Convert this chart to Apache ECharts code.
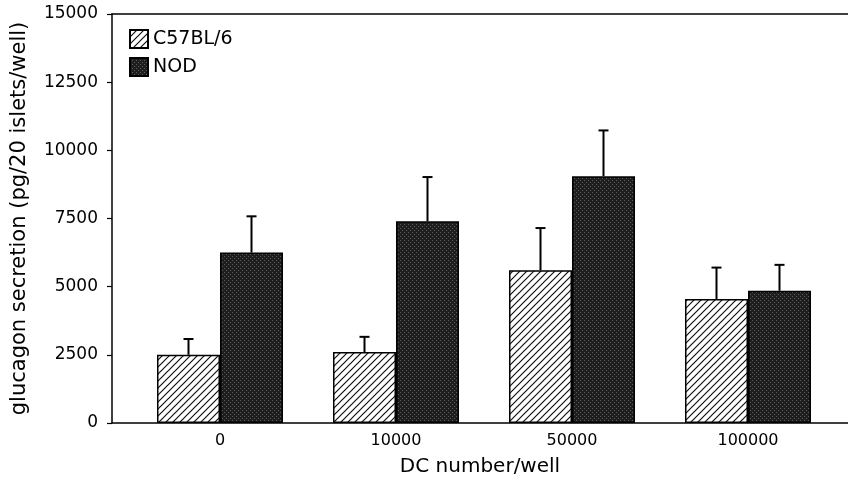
<!DOCTYPE html>
<html>
<head>
<meta charset="utf-8">
<script src="https://cdn.jsdelivr.net/npm/echarts@6/dist/echarts.min.js"></script>
<style>
  html, body { margin: 0; padding: 0; background: #fff; }
  #chart { width: 848px; height: 483px; }
</style>
</head>
<body>
<div id="chart"></div>
<script>
// data
const categories = ['0', '10000', '50000', '100000'];
const c57Mean = [2500, 2600, 5600, 4550];
const c57Err = [580, 560, 1550, 1150];
const nodMean = [6250, 7400, 9050, 4850];
const nodErr = [1330, 1620, 1680, 950];
const yTicks = { min: 0, max: 15000, interval: 2500 };

const FONT = 'DejaVu Sans';
const BAR_W = 63;

// hatch tile for C57BL/6 bars
function hatchTile() {
    const c = document.createElement('canvas');
    c.width = 7;
    c.height = 7;
    const ctx = c.getContext('2d');
    ctx.fillStyle = '#fff';
    ctx.fillRect(0, 0, 7, 7);
    ctx.strokeStyle = '#111';
    ctx.lineWidth = 1.2;
    ctx.beginPath();
    ctx.moveTo(-1, 8); ctx.lineTo(8, -1);
    ctx.moveTo(-1, 1); ctx.lineTo(1, -1);
    ctx.moveTo(6, 8); ctx.lineTo(8, 6);
    ctx.stroke();
    return c;
}

// stipple tile for NOD bars
function stippleTile() {
    const c = document.createElement('canvas');
    c.width = 4;
    c.height = 4;
    const ctx = c.getContext('2d');
    ctx.fillStyle = '#1e1e1e';
    ctx.fillRect(0, 0, 4, 4);
    ctx.fillStyle = '#5e5e5e';
    ctx.fillRect(0, 0, 1, 1);
    ctx.fillRect(2, 2, 1, 1);
    return c;
}

const hatch = { image: hatchTile(), repeat: 'repeat' };
const stipple = { image: stippleTile(), repeat: 'repeat' };

function errData(means, errs) {
    return means.map((m, i) => [i, m, m + errs[i]]);
}

function errRender(offset) {
    return function (params, api) {
        const lo = api.coord([api.value(0), api.value(1)]);
        const hi = api.coord([api.value(0), api.value(2)]);
        const x = lo[0] + offset;
        const style = { stroke: '#000', lineWidth: 2 };
        return {
            type: 'group',
            children: [
                { type: 'line', shape: { x1: x, y1: lo[1], x2: x, y2: hi[1] }, style },
                { type: 'line', shape: { x1: x - 5, y1: hi[1], x2: x + 5, y2: hi[1] }, style },
            ],
        };
    };
}

const chart = echarts.init(document.getElementById('chart'), null, { renderer: 'canvas' });

const frameLine = { show: true, lineStyle: { color: '#000', width: 1.5 } };

chart.setOption({
    animation: false,
    backgroundColor: '#fff',
    textStyle: { fontFamily: FONT, color: '#000' },
    legend: {
        orient: 'vertical',
        left: 124,
        top: 24,
        itemWidth: 18,
        itemHeight: 18,
        itemGap: 8,
        icon: 'rect',
        data: ['C57BL/6', 'NOD'],
        textStyle: { fontFamily: FONT, fontSize: 19, color: '#000' },
    },
    grid: [
        { left: 112, right: 0, top: 14, bottom: 60 },
        { left: 132, right: 12, top: 14, bottom: 60 },
    ],
    xAxis: [
        {
            gridIndex: 0, type: 'value', min: 0, max: 1, position: 'bottom',
            axisLine: frameLine, axisTick: { show: false }, axisLabel: { show: false }, splitLine: { show: false },
            name: 'DC number/well', nameLocation: 'middle', nameGap: 34,
            nameTextStyle: { fontFamily: FONT, fontSize: 20, color: '#000' },
        },
        {
            gridIndex: 0, type: 'value', min: 0, max: 1, position: 'top',
            axisLine: frameLine, axisTick: { show: false }, axisLabel: { show: false }, splitLine: { show: false },
        },
        {
            gridIndex: 1, type: 'category', data: categories,
            axisLine: { show: false }, axisTick: { show: false },
            axisLabel: { fontFamily: FONT, fontSize: 16, color: '#000', margin: 10 },
        },
    ],
    yAxis: [
        {
            gridIndex: 0, type: 'value', min: yTicks.min, max: yTicks.max, interval: yTicks.interval,
            axisLine: frameLine,
            axisTick: { show: true, length: 5, lineStyle: { color: '#000', width: 1.2 } },
            axisLabel: {
                fontFamily: FONT, fontSize: 17, color: '#000', margin: 14,
                formatter: (v) => String(v),
            },
            splitLine: { show: false },
            name: 'glucagon secretion (pg/20 islets/well)', nameLocation: 'middle', nameGap: 82,
            nameTextStyle: { fontFamily: FONT, fontSize: 21, color: '#000' },
        },
        {
            gridIndex: 1, type: 'value', min: yTicks.min, max: yTicks.max, show: false,
        },
    ],
    series: [
        {
            name: 'C57BL/6', type: 'bar', xAxisIndex: 2, yAxisIndex: 1,
            data: c57Mean, barWidth: BAR_W, barGap: '0%',
            itemStyle: { color: hatch, borderColor: '#000', borderWidth: 1.5 },
        },
        {
            name: 'NOD', type: 'bar', xAxisIndex: 2, yAxisIndex: 1,
            data: nodMean, barWidth: BAR_W, barGap: '0%',
            itemStyle: { color: stipple, borderColor: '#000', borderWidth: 1.5 },
        },
        {
            name: 'c57-err', type: 'custom', xAxisIndex: 2, yAxisIndex: 1,
            data: errData(c57Mean, c57Err), renderItem: errRender(-BAR_W / 2), z: 1,
        },
        {
            name: 'nod-err', type: 'custom', xAxisIndex: 2, yAxisIndex: 1,
            data: errData(nodMean, nodErr), renderItem: errRender(BAR_W / 2), z: 1,
        },
    ],
});
</script>
</body>
</html>
